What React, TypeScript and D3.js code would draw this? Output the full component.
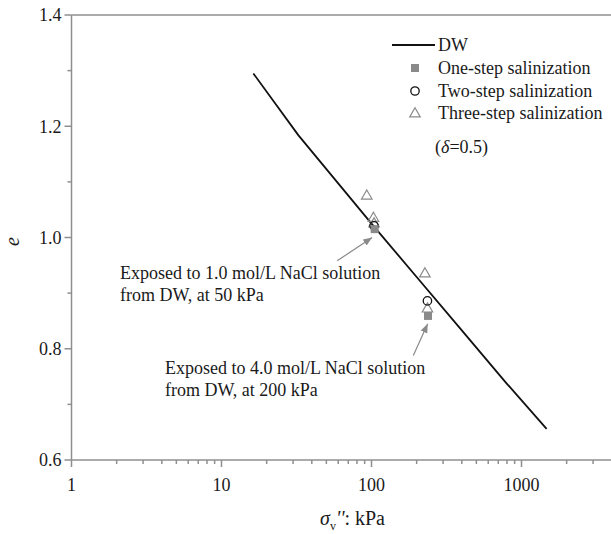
import React from "react";
import * as d3 from "d3";

const dwStress = [16.3, 32.5, 100, 200, 400, 800, 1470];
const dwE = [1.295, 1.184, 1.025, 0.929, 0.833, 0.737, 0.656];

const oneStepStress = [105, 238];
const oneStepE = [1.015, 0.859];
const twoStepStress = [104, 236];
const twoStepE = [1.021, 0.886];
const threeStepStress = [93, 103, 104, 227, 236];
const threeStepE = [1.076, 1.036, 1.026, 0.936, 0.873];

const xMajorTicks = [1, 10, 100, 1000];
const xTickLabels = ["1", "10", "100", "1000"];
const xMinorTicks = [2, 3, 4, 5, 6, 7, 8, 9, 20, 30, 40, 50, 60, 70, 80, 90, 200, 300, 400, 500, 600, 700, 800, 900, 2000, 3000];
const yMajorTicks = [0.6, 0.8, 1.0, 1.2, 1.4];
const yTickLabels = ["0.6", "0.8", "1.0", "1.2", "1.4"];
const yMinorTicks = [0.7, 0.9, 1.1, 1.3];

const legendLabels = ["DW", "One-step salinization", "Two-step salinization", "Three-step salinization"];
const note1 = ["Exposed to 1.0 mol/L NaCl solution", "from DW, at 50 kPa"];
const note2 = ["Exposed to 4.0 mol/L NaCl solution", "from DW, at 200 kPa"];
// arrow endpoints in data units [stress, e]
const arrow1 = [[59, 0.958], [101, 1.0]];
const arrow2 = [[190, 0.788], [237, 0.845]];

const FONT = '"Liberation Serif", "Times New Roman", Times, "DejaVu Serif", serif';
const AXIS = "#8f8f8f";
const MARK = "#8a8a8a";
const TXT = "#1a1a1a";

export default function App() {
  const W = 611, H = 534;
  const x = d3.scaleLog().domain([1, 4000]).range([71.5, 71.5 + 150 * Math.log10(4000)]);
  const y = d3.scaleLinear().domain([0.6, 1.4]).range([460, 15]);
  const line = d3.line<number>().x((_, i) => x(dwStress[i])).y((d) => y(d));
  const tri = d3.symbol().type(d3.symbolTriangle).size(48)();
  const x0 = x(1), x1 = W;
  const ts: React.CSSProperties = { fontFamily: FONT };

  const drawSquare = (cx: number, cy: number, k: string) => (
    <rect key={k} x={cx - 4} y={cy - 4} width={8} height={8} fill={MARK} />
  );
  const drawCircle = (cx: number, cy: number, k: string) => (
    <circle key={k} cx={cx} cy={cy} r={4.2} fill="none" stroke="#111" strokeWidth={1.3} />
  );
  const drawTri = (cx: number, cy: number, k: string) => (
    <path key={k} d={tri as string} transform={`translate(${cx},${cy + 0.8})`} fill="none" stroke={MARK} strokeWidth={1.2} />
  );

  const legX = 415;
  const legTextX = 438;
  const legY = [45, 68, 91, 113];

  return (
    <svg width={W} height={H} style={{ position: "absolute", left: 0, top: 0, background: "#fff", fontFamily: FONT }}>
      <defs>
        <marker id="arr" viewBox="0 0 10 10" refX="10" refY="5" markerWidth="9" markerHeight="9" markerUnits="userSpaceOnUse" orient="auto">
          <path d="M0,1 L10,5 L0,9 Z" fill={MARK} />
        </marker>
      </defs>
      {/* frame */}
      <line x1={x0} x2={x1} y1={y(1.4)} y2={y(1.4)} stroke={AXIS} strokeWidth={1.5} />
      <line x1={x0} x2={x1} y1={y(0.6)} y2={y(0.6)} stroke={AXIS} strokeWidth={1.5} />
      <line x1={x0} x2={x0} y1={y(1.4)} y2={y(0.6)} stroke={AXIS} strokeWidth={1.5} />
      {/* y ticks */}
      {yMajorTicks.map((t, i) => (
        <g key={"ym" + i}>
          <line x1={x0 - 7} x2={x0} y1={y(t)} y2={y(t)} stroke={AXIS} strokeWidth={1.5} />
          <text style={ts} x={x0 - 10} y={y(t)} dy="0.35em" textAnchor="end" fontSize={18} fill={TXT}>{yTickLabels[i]}</text>
        </g>
      ))}
      {yMinorTicks.map((t, i) => (
        <line key={"yn" + i} x1={x0 - 4} x2={x0} y1={y(t)} y2={y(t)} stroke={AXIS} strokeWidth={1.5} />
      ))}
      {/* x ticks */}
      {xMajorTicks.map((t, i) => (
        <g key={"xm" + i}>
          <line x1={x(t)} x2={x(t)} y1={y(0.6)} y2={y(0.6) + 7} stroke={AXIS} strokeWidth={1.5} />
          <text style={ts} x={x(t)} y={y(0.6) + 31} textAnchor="middle" fontSize={18} fill={TXT}>{xTickLabels[i]}</text>
        </g>
      ))}
      {xMinorTicks.map((t, i) => (
        <line key={"xn" + i} x1={x(t)} x2={x(t)} y1={y(0.6)} y2={y(0.6) + 4} stroke={AXIS} strokeWidth={1.5} />
      ))}
      {/* axis titles */}
      <text style={ts} transform={`translate(19,${y(1.0) + 4}) rotate(-90)`} textAnchor="middle" fontSize={20} fontStyle="italic" fill={TXT}>e</text>
      <text style={ts} x={320} y={525} fontSize={20} fill={TXT}>
        <tspan fontStyle="italic">σ</tspan>
        <tspan fontSize={12} dy={5}>v</tspan>
        <tspan dy={-5} fontStyle="italic">''</tspan>
        <tspan>: kPa</tspan>
      </text>
      {/* DW line */}
      <path d={line(dwE) || ""} fill="none" stroke="#111" strokeWidth={1.8} />
      {/* markers */}
      {threeStepStress.map((s, i) => drawTri(x(s), y(threeStepE[i]), "t" + i))}
      {twoStepStress.map((s, i) => drawCircle(x(s), y(twoStepE[i]), "c" + i))}
      {oneStepStress.map((s, i) => drawSquare(x(s), y(oneStepE[i]), "s" + i))}
      {/* arrows */}
      <line x1={x(arrow1[0][0])} y1={y(arrow1[0][1])} x2={x(arrow1[1][0])} y2={y(arrow1[1][1])} stroke={MARK} strokeWidth={1.2} markerEnd="url(#arr)" />
      <line x1={x(arrow2[0][0])} y1={y(arrow2[0][1])} x2={x(arrow2[1][0])} y2={y(arrow2[1][1])} stroke={MARK} strokeWidth={1.2} markerEnd="url(#arr)" />
      {/* annotations */}
      {note1.map((t, i) => (
        <text style={ts} key={"n1" + i} x={120} y={279 + i * 22} fontSize={18} fill={TXT}>{t}</text>
      ))}
      {note2.map((t, i) => (
        <text style={ts} key={"n2" + i} x={165} y={374 + i * 22} fontSize={18} fill={TXT}>{t}</text>
      ))}
      {/* legend */}
      <line x1={392} x2={435} y1={legY[0]} y2={legY[0]} stroke="#111" strokeWidth={1.8} />
      {drawSquare(legX, legY[1], "ls")}
      {drawCircle(legX, legY[2], "lc")}
      {drawTri(legX, legY[3], "lt")}
      {legendLabels.map((t, i) => (
        <text style={ts} key={"l" + i} x={legTextX} y={legY[i]} dy="0.33em" fontSize={18} fill={TXT}>{t}</text>
      ))}
      <text style={ts} x={435} y={147} dy="0.33em" fontSize={18} fill={TXT}>
        (<tspan fontStyle="italic">δ</tspan>=0.5)
      </text>
    </svg>
  );
}
